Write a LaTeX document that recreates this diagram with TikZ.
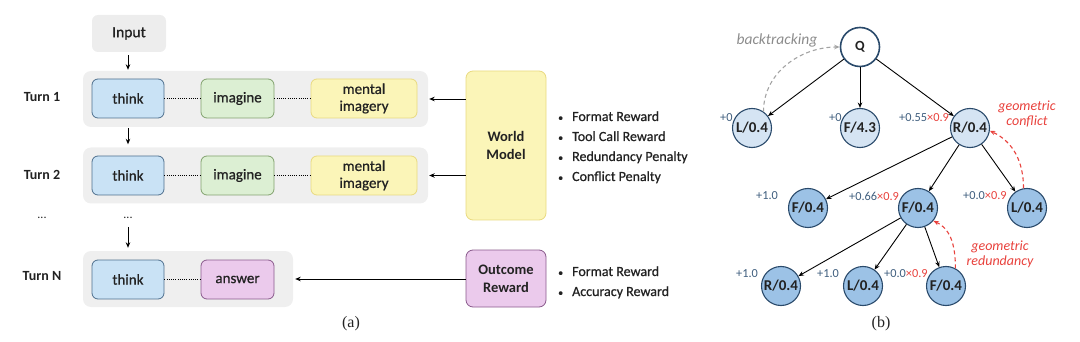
\documentclass[tikz,border=0pt]{standalone}
\usepackage{fontspec}
\setmainfont{Carlito}
\newfontfamily\medfont{Carlito}[FakeBold=0.7]
\newfontfamily\capfont{Liberation Serif}
\usetikzlibrary{arrows.meta}
\definecolor{bandgray}{HTML}{EFEFEF}
\definecolor{inputgray}{HTML}{EDEDED}
\definecolor{thinkfill}{HTML}{C9E2F5}
\definecolor{thinkdraw}{HTML}{4F708E}
\definecolor{imgfill}{HTML}{DCEFD3}
\definecolor{imgdraw}{HTML}{82A26E}
\definecolor{mentfill}{HTML}{FBF5B8}
\definecolor{mentdraw}{HTML}{E9DA80}
\definecolor{ansfill}{HTML}{EBCAEC}
\definecolor{ansdraw}{HTML}{8A5A8C}
\definecolor{nodeedge}{HTML}{2A4A6B}
\definecolor{lvlone}{HTML}{D5E4F3}
\definecolor{lvltwo}{HTML}{9CC2E6}
\definecolor{scoreblue}{HTML}{3F5E7E}
\definecolor{redtxt}{HTML}{E8413C}
\definecolor{backgray}{HTML}{8C8C8C}
\definecolor{textdark}{HTML}{222222}
\newcommand{\smbul}{{\fontsize{10}{10}\selectfont\textbullet}}
\begin{document}
\begin{tikzpicture}[x=1pt,y=1pt, every node/.style={text=textdark},
  band/.style={fill=bandgray, rounded corners=8pt, inner sep=0pt},
  box/.style={draw, line width=0.8pt, rounded corners=6pt, minimum height=39pt, inner sep=0pt, align=center, font=\medfont\fontsize{15}{17}\selectfont},
  thinkbox/.style={box, fill=thinkfill, draw=thinkdraw, minimum width=72pt},
  imaginebox/.style={box, fill=imgfill, draw=imgdraw, minimum width=73pt},
  mentalbox/.style={box, fill=mentfill, draw=mentdraw, minimum width=106pt},
  answerbox/.style={box, fill=ansfill, draw=ansdraw, minimum width=73pt},
  turnlabel/.style={font=\bfseries\fontsize{14}{16}\selectfont},
  arr/.style={-{Stealth[length=5.5pt,width=4.5pt]}, line width=0.9pt},
  dotcon/.style={line width=0.9pt, dash pattern=on 1pt off 1.2pt},
  bullets/.style={anchor=west, inner sep=0pt, font=\medfont\fontsize{14}{20}\selectfont},
  tnode/.style={circle, draw=nodeedge, line width=1.1pt, minimum size=39pt, inner sep=0pt, font=\bfseries\fontsize{15}{15}\selectfont},
  lone/.style={tnode, fill=lvlone},
  ltwo/.style={tnode, fill=lvltwo},
  score/.style={anchor=west, inner sep=0pt, font=\fontsize{12.3}{12}\selectfont, text=scoreblue},
  redlab/.style={align=center, text=redtxt, font=\itshape\fontsize{14}{15}\selectfont},
  tarr/.style={-{Stealth[length=5.5pt,width=4.5pt]}, line width=0.9pt},
  reddash/.style={-{Stealth[length=5.5pt,width=4.5pt]}, draw=redtxt, line width=1.1pt, dash pattern=on 4pt off 3pt},
  graydash/.style={-{Stealth[length=5.5pt,width=4.5pt]}, draw=backgray!80, line width=1.1pt, dash pattern=on 4pt off 3pt}
]
\useasboundingbox (0,0) rectangle (1080,-342);

% ---------- (a) ----------
\node[fill=inputgray, rounded corners=6pt, minimum width=74pt, minimum height=37pt, inner sep=0pt, font=\medfont\fontsize{15.5}{17}\selectfont] (input) at (129,-33.5) {Input};

\node[band, minimum width=345pt, minimum height=56pt] (band1) at (255.5,-99) {};
\node[band, minimum width=345pt, minimum height=56pt] (band2) at (255.5,-175.5) {};
\node[band, minimum width=210pt, minimum height=56pt] (bandN) at (188,-279) {};

\node[thinkbox] (think1) at (128,-98.5) {think};
\node[imaginebox] (imag1) at (237.5,-98.5) {imagine};
\node[mentalbox] (ment1) at (364,-98.5) {mental\\imagery};

\node[thinkbox] (think2) at (128,-175.5) {think};
\node[imaginebox] (imag2) at (237.5,-175.5) {imagine};
\node[mentalbox] (ment2) at (364,-175.5) {mental\\imagery};

\node[thinkbox] (thinkN) at (128,-279.5) {think};
\node[answerbox] (ansN) at (237.5,-279.5) {answer};

\draw[dotcon] (think1) -- (imag1);
\draw[dotcon] (imag1) -- (ment1);
\draw[dotcon] (think2) -- (imag2);
\draw[dotcon] (imag2) -- (ment2);
\draw[dotcon] (thinkN) -- (ansN);

\node[turnlabel] (turn1) at (42,-97) {Turn 1};
\node[turnlabel] (turn2) at (42,-175) {Turn 2};
\node[turnlabel] (turnN) at (42,-276) {Turn N};
\node[font=\fontsize{12}{12}\selectfont] (dotsA) at (42,-218) {...};
\node[font=\fontsize{12}{12}\selectfont] (dotsB) at (128,-218) {...};

\draw[arr] ([yshift=-3pt]input.south -| think1) -- ([yshift=1pt]band1.north -| think1);
\draw[arr] ([yshift=-1pt]band1.south -| think1) -- ([yshift=3pt]band2.north -| think1);
\draw[arr] ([yshift=-9pt]dotsB.center) -- ([yshift=3pt]bandN.north -| think1);

\node[draw=mentdraw, fill=mentfill, line width=0.8pt, rounded corners=7pt, minimum width=80pt, minimum height=149pt, inner sep=0pt, align=center, font=\bfseries\fontsize{14.5}{18}\selectfont] (wm) at (506,-145.5) {World\\Model};
\node[draw=ansdraw, fill=ansfill, line width=0.8pt, rounded corners=7pt, minimum width=80pt, minimum height=57pt, inner sep=0pt, align=center, font=\bfseries\fontsize{14.5}{18}\selectfont] (outc) at (506,-278.5) {Outcome\\Reward};

\draw[arr] (wm.west |- band1) -- ([xshift=1pt]band1.east);
\draw[arr] (wm.west |- band2) -- ([xshift=1pt]band2.east);
\draw[arr] (outc.west |- bandN) -- ([xshift=2pt]bandN.east);

\node[bullets] (wmlist) at (558,-147) {\begin{tabular}{@{}l@{\hspace{9pt}}l@{}}
\smbul & Format Reward\\
\smbul & Tool Call Reward\\
\smbul & Redundancy Penalty\\
\smbul & Conflict Penalty
\end{tabular}};
\node[bullets] (oclist) at (558,-282) {\begin{tabular}{@{}l@{\hspace{9pt}}l@{}}
\smbul & Format Reward\\
\smbul & Accuracy Reward
\end{tabular}};

\node[font=\capfont\fontsize{16}{16}\selectfont] (capa) at (351,-324) {(a)};

% ---------- (b) ----------
\node[tnode, fill=white, line width=1.6pt, font=\bfseries\fontsize{14}{14}\selectfont] (Q) at (860,-47) {Q};
\node[lone] (L1) at (752,-128) {L/0.4};
\node[lone] (F1) at (860,-128) {F/4.3};
\node[lone] (R1) at (970,-128) {R/0.4};
\node[ltwo] (F2a) at (808,-208) {F/0.4};
\node[ltwo] (F2b) at (918,-208) {F/0.4};
\node[ltwo] (L2) at (1027,-208) {L/0.4};
\node[ltwo] (R3) at (781,-286) {R/0.4};
\node[ltwo] (L3) at (863,-286) {L/0.4};
\node[ltwo] (F3) at (946,-286) {F/0.4};

\draw[tarr] (Q) -- (L1);
\draw[tarr] (Q) -- (F1);
\draw[tarr] (Q) -- (R1);
\draw[tarr] (R1) -- (F2a);
\draw[tarr] (R1) -- (F2b);
\draw[tarr] (R1) -- (L2);
\draw[tarr] (F2b) -- (R3);
\draw[tarr] (F2b) -- (L3);
\draw[tarr] (F2b) -- (F3);

\node[score] (sL1) at (720,-118) {+0};
\node[score] (sF1) at (829,-118) {+0};
\node[score] (sR1) at (899,-118) {+0.55\textcolor{redtxt}{×0.9}};
\node[score] (sF2a) at (756,-196) {+1.0};
\node[score] (sF2b) at (849,-196) {+0.66\textcolor{redtxt}{×0.9}};
\node[score] (sL2) at (963,-196) {+0.0\textcolor{redtxt}{×0.9}};
\node[score] (sR3) at (736,-274) {+1.0};
\node[score] (sL3) at (817,-274) {+1.0};
\node[score] (sF3) at (884,-274) {+0.0\textcolor{redtxt}{×0.9}};

\node[text=backgray, font=\itshape\fontsize{15.5}{15}\selectfont] (btlab) at (777,-40) {backtracking};
\node[redlab] (gclab) at (1027,-114) {geometric\\conflict};
\node[redlab] (grlab) at (1000,-254) {geometric\\redundancy};

\draw[graydash] (L1.55) to[out=90,in=180] (Q.west);
\draw[reddash] (L2.100) to[out=90,in=-25] (R1.-8);
\draw[reddash] (F3.62) to[out=90,in=-25] (F2b.-40);

\node[font=\capfont\fontsize{16}{16}\selectfont] (capb) at (881,-324) {(b)};
\end{tikzpicture}
\end{document}
